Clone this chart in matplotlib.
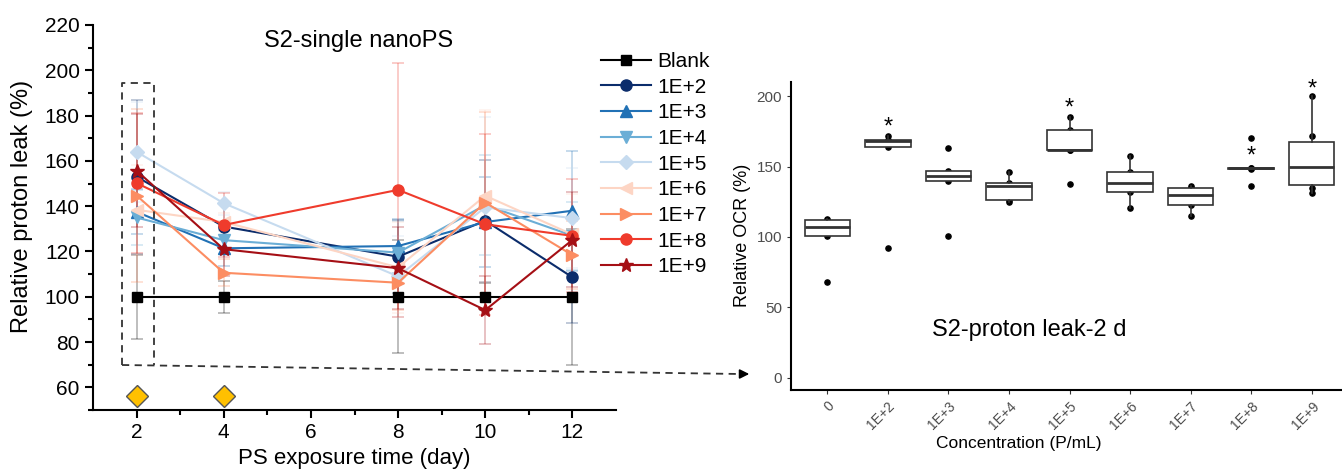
import numpy as np
import matplotlib
matplotlib.use('Agg')
import matplotlib.pyplot as plt
from matplotlib.lines import Line2D

# ---------------- left panel data ----------------
days = [2, 4, 8, 10, 12]
series_names = ['Blank', '1E+2', '1E+3', '1E+4', '1E+5', '1E+6', '1E+7', '1E+8', '1E+9']
blank = [100, 100, 100, 100, 100]
c1e2 = [153, 131, 117.7, 133.6, 108.6]
c1e3 = [137.5, 121.4, 122.4, 133, 138]
c1e4 = [135, 125, 119.5, 140.5, 127]
c1e5 = [164, 141.3, 109, 139.5, 134.7]
c1e6 = [138.4, 133, 113, 144.6, 127.5]
c1e7 = [144.7, 110.6, 106.2, 141.6, 118.4]
c1e8 = [150.2, 131.7, 147.2, 132, 126.9]
c1e9 = [155.7, 121, 112.6, 94.1, 125.1]

err_blank = [18.5, 7, 25, 6, 30]
err_1e2 = [34, 10, 16, 27, 20]
err_1e3 = [10, 8, 12, 20, 26.5]
err_1e4 = [12, 6, 14, 22, 15]
err_1e5 = [22, 5, 18, 40, 22]
err_1e6 = [20, 4, 20, 38, 18]
err_1e7 = [38, 6, 12, 40, 15]
err_1e8 = [31, 14, 56, 40, 25]
err_1e9 = [25, 12, 18, 15, 21]

dose_days = [2, 4]
dose_level = [56, 56]

# ---------------- right panel data ----------------
groups = ['0', '1E+2', '1E+3', '1E+4', '1E+5', '1E+6', '1E+7', '1E+8', '1E+9']
g0 = [68, 101, 107, 112, 113]
g2 = [92, 164, 168, 169, 172]
g3 = [101, 140, 143, 147, 163]
g4 = [125, 126, 136.5, 138, 146.5]
g5 = [137.5, 161.5, 162, 176, 185]
g6 = [120.5, 132, 138, 146, 157.5]
g7 = [115, 123, 130, 135, 136.5]
g8 = [136, 148.5, 148.7, 149, 170]
g9 = [131.5, 134.5, 145, 155, 171.7, 200]
star_groups = ['1E+2', '1E+5', '1E+8', '1E+9']
star_y = [178, 191, 157, 205]

W, H = 1342, 469
fig = plt.figure(figsize=(13.42, 4.69), dpi=100)
plt.rcParams['font.family'] = ['Liberation Sans', 'DejaVu Sans']

# ================= left plot =================
ax = fig.add_axes([93 / W, (H - 410) / H, (616 - 93) / W, (410 - 25) / H])
vals = [blank, c1e2, c1e3, c1e4, c1e5, c1e6, c1e7, c1e8, c1e9]
errs = [err_blank, err_1e2, err_1e3, err_1e4, err_1e5, err_1e6, err_1e7, err_1e8, err_1e9]
colors = ['#000000', '#0b2c6b', '#2171b5', '#6baed6', '#c6dbef',
          '#fdd5c4', '#fc8d62', '#ef3b2c', '#a50f15']
markers = ['s', 'o', '^', 'v', 'D', '<', '>', 'o', '*']
msizes = [7, 8, 8, 8, 7, 8, 8, 8, 10]

for v, e, c, m, ms, name in zip(vals, errs, colors, markers, msizes, series_names):
    ax.errorbar(days, v, yerr=e, fmt='none', ecolor=c, alpha=0.3,
                elinewidth=1.2, capsize=4, capthick=1.2, zorder=2)
    ax.plot(days, v, color=c, marker=m, markersize=ms, linewidth=1.5, label=name, zorder=3)

ax.plot(dose_days, dose_level, linestyle='none', marker='D', markersize=11,
        markerfacecolor='#ffc000', markeredgecolor='#555555', markeredgewidth=1, clip_on=False)

ax.set_xlim(1, 13)
ax.set_ylim(50, 220)
ax.set_xticks([2, 4, 6, 8, 10, 12])
ax.set_xticks([3, 5, 7, 9, 11], minor=True)
ax.set_yticks([60, 80, 100, 120, 140, 160, 180, 200, 220])
ax.set_yticks(np.arange(50, 221, 10), minor=True)
ax.spines['top'].set_visible(False)
ax.spines['right'].set_visible(False)
for s in ['left', 'bottom']:
    ax.spines[s].set_linewidth(1.5)
ax.tick_params(axis='both', which='major', labelsize=15, length=6, width=1.5)
ax.tick_params(axis='both', which='minor', length=3.5, width=1.5)
ax.set_xlabel('PS exposure time (day)', fontsize=16, labelpad=4)
ax.set_ylabel('Relative proton leak (%)', fontsize=17, labelpad=6)
ax.yaxis.set_label_coords(-0.115, 0.53)
ax.text(7.1, 213, 'S2-single nanoPS', fontsize=17, ha='center', va='center')

leg = ax.legend(loc='upper left', bbox_to_anchor=(601 / W, (H - 52) / H),
                bbox_transform=fig.transFigure, frameon=False, fontsize=15,
                handlelength=2.4, handletextpad=0.3, labelspacing=0.32,
                borderpad=0, borderaxespad=0)

# ================= right plot =================
ax2 = fig.add_axes([791 / W, (H - 390) / H, (W - 791) / W, (390 - 81.7) / H])
box_data = [g0, g2, g3, g4, g5, g6, g7, g8, g9]
pos = np.arange(1, len(groups) + 1)
# points first, boxes drawn over them (white fill hides the inner ones)
for p, d in zip(pos, box_data):
    ax2.scatter([p] * len(d), d, s=14, color='black', zorder=1)
ax2.boxplot(box_data, positions=pos, widths=0.75, whis=1.5, showfliers=False,
            patch_artist=True, zorder=2,
            boxprops=dict(facecolor='white', edgecolor='#333333', linewidth=1.2),
            medianprops=dict(color='#333333', linewidth=2),
            whiskerprops=dict(color='#333333', linewidth=1.2),
            capprops=dict(linewidth=0))
for gname, sy in zip(star_groups, star_y):
    ax2.text(groups.index(gname) + 1, sy, '*', fontsize=17, ha='center', va='center')

ax2.set_xlim(0.4, 9.5)
ax2.set_ylim(-8.7, 210.3)
ax2.set_xticks(pos)
ax2.set_xticklabels(groups, rotation=45, ha='right', rotation_mode='anchor',
                    fontsize=10, color='#4d4d4d')
ax2.set_yticks([0, 50, 100, 150, 200])
ax2.tick_params(axis='y', labelsize=11, labelcolor='#4d4d4d', color='#333333', length=3)
ax2.tick_params(axis='x', color='#333333', length=3)
ax2.spines['top'].set_visible(False)
ax2.spines['right'].set_visible(False)
for s in ['left', 'bottom']:
    ax2.spines[s].set_linewidth(1.5)
ax2.set_xlabel('Concentration (P/mL)', fontsize=12.5)
ax2.xaxis.set_label_coords((1019 - 791) / (W - 791), -0.15)
ax2.set_ylabel('Relative OCR (%)', fontsize=13)
ax2.text(4.33, 34, 'S2-proton leak-2 d', fontsize=17, ha='center', va='center')

# ================= dashed connector =================
def fx(px):
    return px / W

def fy(py):
    return (H - py) / H

rect_x = [122, 122, 154, 154]
rect_y = [365, 83, 83, 365]
fig.add_artist(Line2D([fx(x) for x in rect_x], [fy(y) for y in rect_y],
                      color='#333333', linestyle=(0, (4, 3)), linewidth=1.3))
fig.add_artist(Line2D([fx(122), fx(740)], [fy(365), fy(374)],
                      color='#333333', linestyle=(0, (4, 3)), linewidth=1.3))
ax2.annotate('', xy=(fx(752), fy(374)), xycoords='figure fraction',
             xytext=(fx(738), fy(374)), textcoords='figure fraction',
             arrowprops=dict(arrowstyle='-|>', color='black', lw=1.2, mutation_scale=14),
             annotation_clip=False)

fig.savefig('out.png', dpi=100)
